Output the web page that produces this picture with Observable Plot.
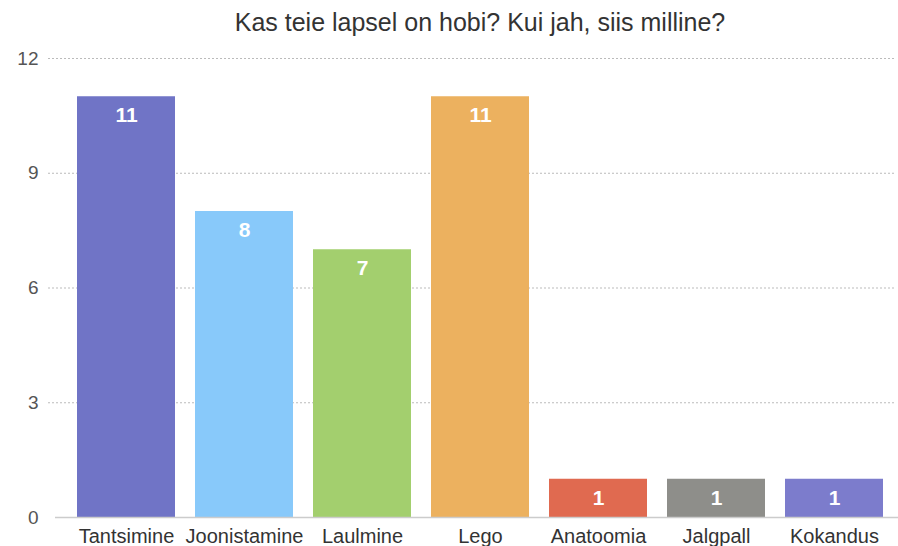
<!DOCTYPE html>
<html>
<head>
<meta charset="utf-8">
<script src="https://cdn.jsdelivr.net/npm/d3@7"></script>
<script src="https://cdn.jsdelivr.net/npm/@observablehq/plot@0.6"></script>
<style>
  html, body { margin: 0; padding: 0; background: #fff; }
  #title { height: 45px; line-height: 45px; text-align: center; padding-left: 62px; width: 836px; font-family: "Liberation Sans", Arial, sans-serif; font-size: 25px; color: #333; font-weight: 500; }
</style>
</head>
<body>
<div id="title">Kas teie lapsel on hobi? Kui jah, siis milline?</div>
<div id="chart"></div>
<script>
const categories = ["Tantsimine", "Joonistamine", "Laulmine", "Lego", "Anatoomia", "Jalgpall", "Kokandus"];
const values = [11, 8, 7, 11, 1, 1, 1];
const colors = ["#7074c6", "#88c9fa", "#a3cf6e", "#ecb15f", "#e06a50", "#8e8e8a", "#7c7ccc"];
const yTicks = [0, 3, 6, 9, 12];

const data = categories.map((c, i) => ({category: c, value: values[i], color: colors[i]}));

const chart = Plot.plot({
  width: 898,
  height: 501,
  marginTop: 13,
  marginBottom: 29,
  marginLeft: 67,
  marginRight: 5,
  style: {fontFamily: "Liberation Sans, Arial, sans-serif", background: "#fff"},
  x: {domain: categories, paddingInner: 0.17, paddingOuter: 0.08, label: null},
  y: {domain: [0, 12], ticks: yTicks, label: null},
  marks: [
    Plot.ruleY(yTicks.filter(d => d > 0), {stroke: "#bbb", strokeDasharray: "2,2", insetLeft: -19, insetRight: -3}),
    Plot.barY(data, {x: "category", y: "value", fill: "color"}),
    Plot.ruleY([0], {stroke: "#ccc", strokeWidth: 1.5, insetLeft: -12, insetRight: -5}),
    Plot.text(data, {x: "category", y: "value", text: d => String(d.value), dy: 19, fill: "#fff", fontSize: 21, fontWeight: "bold"}),
    Plot.axisY({ticks: yTicks, tickSize: 0, tickPadding: 29, fontSize: 19, fill: "#555"}),
    Plot.axisX({tickSize: 0, tickPadding: 11, fontSize: 20, fill: "#333"})
  ]
});
document.getElementById("chart").appendChild(chart);
</script>
</body>
</html>
